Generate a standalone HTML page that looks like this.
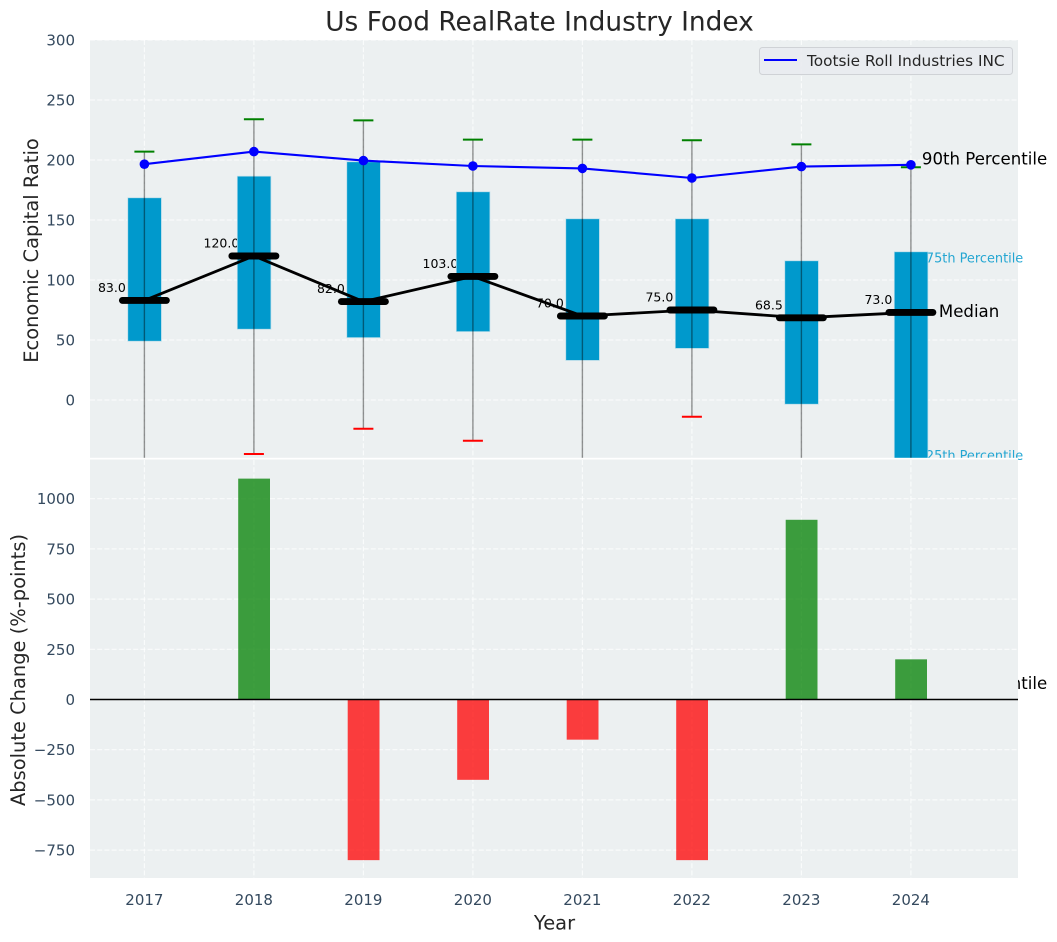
<!DOCTYPE html>
<html lang="en">
<head>
<meta charset="utf-8">
<title>Us Food RealRate Industry Index</title>
<style>
html,body{margin:0;padding:0;background:#fff;width:1057px;height:942px;overflow:hidden}
svg{display:block;font-family:"DejaVu Sans","Liberation Sans",sans-serif}
</style>
</head>
<body>
<svg id="chart" xmlns="http://www.w3.org/2000/svg" width="1057" height="942" viewBox="0 0 1057 942">
  <defs>
    <clipPath id="top-clip"><rect x="90" y="40" width="928" height="418"/></clipPath>
    <clipPath id="bottom-clip"><rect x="90" y="459.5" width="928" height="418.5"/></clipPath>
  </defs>
  <rect x="90" y="40" width="928" height="420" fill="#ecf0f1"/>
  <g id="top-grid" clip-path="url(#top-clip)"></g>
  <g id="top-labels"></g>
  <g id="top-marks" clip-path="url(#top-clip)"></g>
  <g id="top-labels-front"></g>
  <rect x="90" y="457.8" width="928" height="1.7" fill="#ffffff"/>
  <rect x="90" y="459.5" width="928" height="418.5" fill="#ecf0f1"/>
  <g id="bottom-grid" clip-path="url(#bottom-clip)"></g>
  <g id="bottom-marks" clip-path="url(#bottom-clip)"></g>
  <g id="ticks" font-size="15" fill="#34495e"></g>
  <text x="539.5" y="30.5" text-anchor="middle" font-size="26.4" fill="#262626">Us Food RealRate Industry Index</text>
  <text transform="translate(38,250.5) rotate(-90)" text-anchor="middle" font-size="19.45" fill="#262626">Economic Capital Ratio</text>
  <text transform="translate(25,670) rotate(-90)" text-anchor="middle" font-size="19.45" fill="#262626">Absolute Change (%-points)</text>
  <text x="554.5" y="929.5" text-anchor="middle" font-size="19.45" fill="#262626">Year</text>
  <g>
    <rect x="759.5" y="47.5" width="253" height="27" rx="3" fill="#e9ebef" fill-opacity="0.9" stroke="#cfd2d6" stroke-width="1"/>
    <line x1="764" y1="60" x2="797" y2="60" stroke="#0000ff" stroke-width="2"/>
    <text x="807" y="66" font-size="15.3" fill="#262626">Tootsie Roll Industries INC</text>
  </g>
</svg>
<script>
const years = [2017, 2018, 2019, 2020, 2021, 2022, 2023, 2024];
const p90 = [207, 234, 233, 217, 217, 216.5, 213, 194];
const p75 = [168.5, 186.5, 198.5, 173.5, 151, 151, 116, 123.5];
const medians = [83, 120, 82, 103, 70, 75, 68.5, 73];
const p25 = [49, 59, 52, 57, 33, 43, -3.5, -60];
const p10 = [-80, -45, -24, -34, -80, -14, -80, -243];
const company = [196.5, 207, 199.5, 195, 193, 185, 194.5, 196];
const changes = [0, 1100, -800, -400, -200, -800, 895, 200];
const topTicks = [0, 50, 100, 150, 200, 250, 300];
const bottomTicks = [-750, -500, -250, 0, 250, 500, 750, 1000];

const NS = 'http://www.w3.org/2000/svg';
function x(year) { return 144.4 + (year - 2017) * 109.5; }
function yTop(v) { return 400 - v * 1.2; }
function yBottom(v) { return 699.5 - v * 0.2008; }

function add(parent, tag, attrs, name, text) {
  const el = document.createElementNS(NS, tag);
  for (const k in attrs) el.setAttribute(k, attrs[k]);
  
  
  if (text !== undefined) el.textContent = text;
  document.getElementById(parent).appendChild(el);
  return el;
}
const gridStyle = { stroke: '#ffffff', 'stroke-width': 1.2, 'stroke-dasharray': '5 2.2', 'stroke-opacity': 0.7 };

topTicks.forEach(t => {
  add('top-grid', 'line', Object.assign({ x1: 90, x2: 1018, y1: yTop(t), y2: yTop(t) }, gridStyle), 'top-grid-line-y-' + t);
  add('ticks', 'text', { x: 75, y: yTop(t) + 5.5, 'text-anchor': 'end' }, 'top-y-tick-' + t, String(t));
});
bottomTicks.forEach(t => {
  add('bottom-grid', 'line', Object.assign({ x1: 90, x2: 1018, y1: yBottom(t), y2: yBottom(t) }, gridStyle), 'bottom-grid-line-y-' + t);
  add('ticks', 'text', { x: 75, y: yBottom(t) + 5.5, 'text-anchor': 'end' }, 'bottom-y-tick-' + t, String(t).replace('-', '\u2212'));
});
years.forEach(yr => {
  add('top-grid', 'line', Object.assign({ x1: x(yr), x2: x(yr), y1: 40, y2: 458 }, gridStyle), 'top-grid-line-x-' + yr);
  add('bottom-grid', 'line', Object.assign({ x1: x(yr), x2: x(yr), y1: 460, y2: 878 }, gridStyle), 'bottom-grid-line-x-' + yr);
  add('ticks', 'text', { x: x(yr), y: 905, 'text-anchor': 'middle' }, 'x-tick-' + yr, String(yr));
});

// Median value labels and percentile annotations sit beneath the boxes.
years.forEach((yr, i) => {
  add('top-labels', 'text', { x: x(yr) - 32.5, y: yTop(medians[i]) - 8.4, 'text-anchor': 'middle', 'font-size': 12.5, fill: '#000' }, 'median-value-' + yr, medians[i].toFixed(1));
});
const last = years.length - 1;
const lastX = x(years[last]);
add('top-labels', 'text', { x: lastX + 11, y: yTop(p90[last]) - 2.5, 'font-size': 16.6, fill: '#000' }, 'p90-annotation', '90th Percentile');
add('top-labels', 'text', { x: lastX + 11, y: yTop(p10[last]) - 2.5, 'font-size': 16.6, fill: '#000' }, 'p10-annotation', '10th Percentile');
add('top-labels', 'text', { x: lastX + 15, y: yTop(p75[last]) + 10.5, 'font-size': 12.9, fill: '#0099cc', 'fill-opacity': 0.85 }, 'p75-annotation', '75th Percentile');
add('top-labels', 'text', { x: lastX + 15, y: yTop(p25[last]) - 12, 'font-size': 12.9, fill: '#0099cc', 'fill-opacity': 0.85 }, 'p25-annotation', '25th Percentile');

// Interquartile boxes
years.forEach((yr, i) => {
  add('top-marks', 'rect', { x: x(yr) - 16.6, y: yTop(p75[i]), width: 33.6, height: yTop(p25[i]) - yTop(p75[i]), fill: '#0099cc', stroke: '#b5dcea', 'stroke-width': 0.7 }, 'iqr-box-' + yr);
});
// Whiskers and caps
years.forEach((yr, i) => {
  add('top-marks', 'line', { x1: x(yr), x2: x(yr), y1: yTop(p90[i]), y2: yTop(p10[i]), stroke: '#000', 'stroke-opacity': 0.42, 'stroke-width': 1.4 }, 'whisker-' + yr);
  add('top-marks', 'line', { x1: x(yr) - 10, x2: x(yr) + 10, y1: yTop(p90[i]), y2: yTop(p90[i]), stroke: '#008000', 'stroke-width': 2 }, 'p90-cap-' + yr);
  add('top-marks', 'line', { x1: x(yr) - 10, x2: x(yr) + 10, y1: yTop(p10[i]), y2: yTop(p10[i]), stroke: '#ff0000', 'stroke-width': 2 }, 'p10-cap-' + yr);
});
// Median connector and median bars
add('top-marks', 'polyline', { points: years.map((yr, i) => x(yr) + ',' + yTop(medians[i])).join(' '), fill: 'none', stroke: '#000', 'stroke-width': 2.8 }, 'median-line');
years.forEach((yr, i) => {
  add('top-marks', 'line', { x1: x(yr) - 22, x2: x(yr) + 22, y1: yTop(medians[i]), y2: yTop(medians[i]), stroke: '#000', 'stroke-width': 6.9, 'stroke-linecap': 'round' }, 'median-bar-' + yr);
});
// Company series
add('top-marks', 'polyline', { points: years.map((yr, i) => x(yr) + ',' + yTop(company[i])).join(' '), fill: 'none', stroke: '#0000ff', 'stroke-width': 2.1 }, 'company-line');
years.forEach((yr, i) => {
  add('top-marks', 'circle', { cx: x(yr), cy: yTop(company[i]), r: 4.8, fill: '#0000ff' }, 'company-point-' + yr);
});
add('top-labels-front', 'text', { x: lastX + 28, y: yTop(medians[last]) + 4.8, 'font-size': 16.6, fill: '#000' }, 'median-annotation-label', 'Median');

// Absolute change bars
years.forEach((yr, i) => {
  const v = changes[i];
  if (v === 0) return;
  const y0 = Math.min(yBottom(0), yBottom(v));
  const h = Math.abs(yBottom(v) - yBottom(0));
  add('bottom-marks', 'rect', { x: x(yr) - 15.7, y: y0, width: 31.8, height: h, fill: v > 0 ? '#008000' : '#ff0000', 'fill-opacity': 0.75 }, 'change-bar-' + yr);
});
add('bottom-marks', 'line', { x1: 90, x2: 1018, y1: yBottom(0), y2: yBottom(0), stroke: '#000', 'stroke-width': 1.4 }, 'zero-line');
</script>
</body>
</html>
